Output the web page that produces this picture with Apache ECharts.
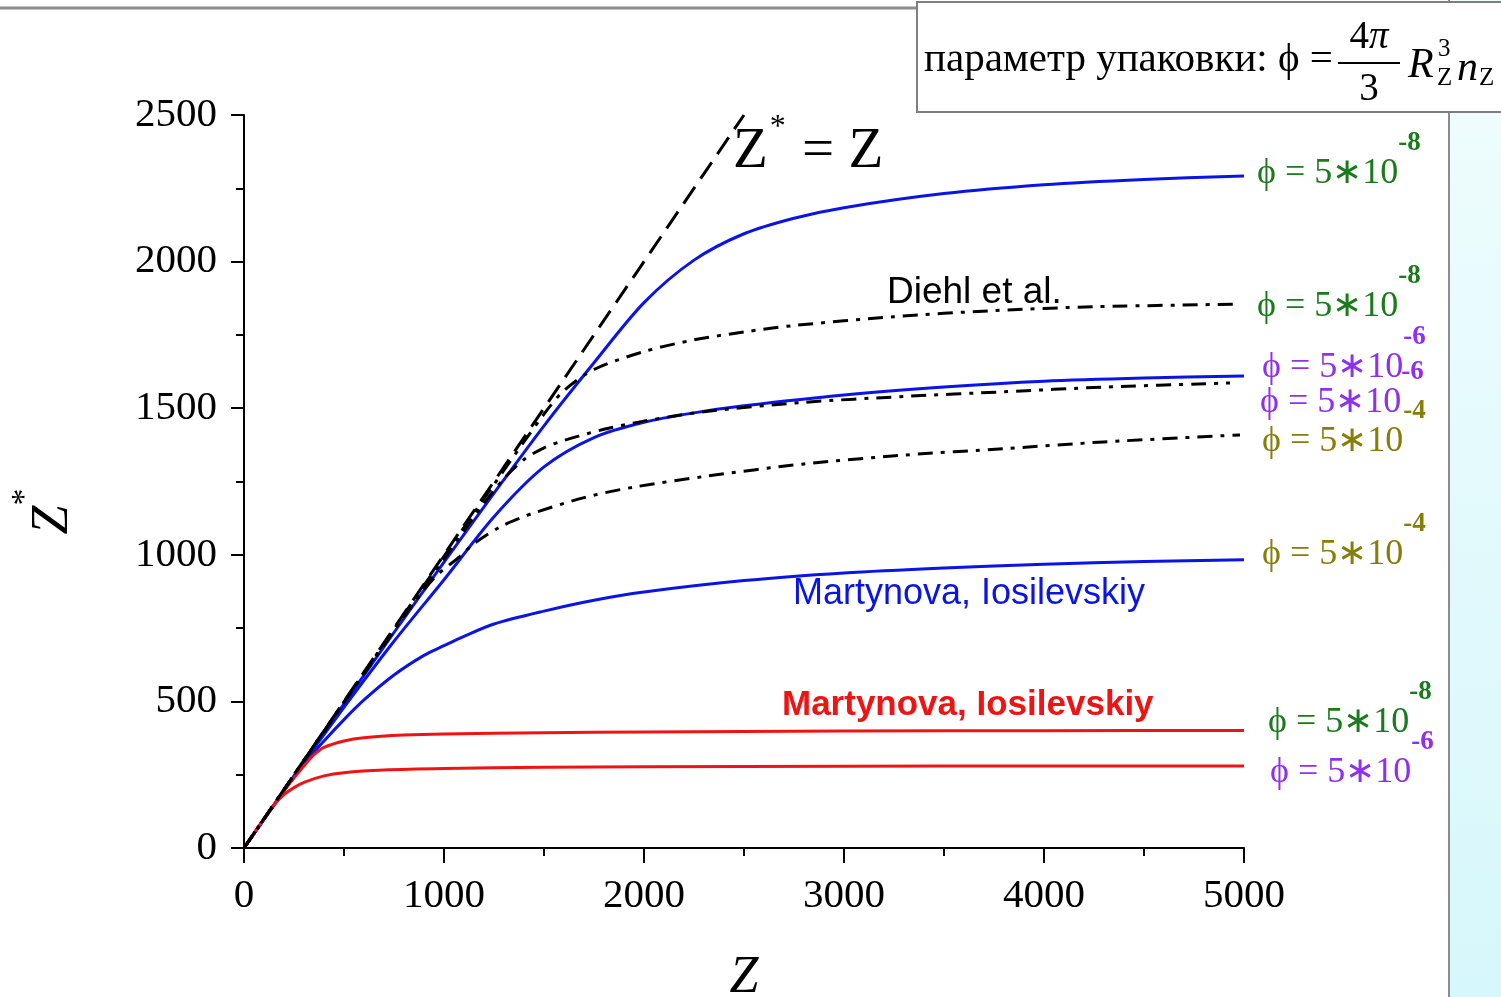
<!DOCTYPE html>
<html>
<head>
<meta charset="utf-8">
<script src="https://cdn.jsdelivr.net/npm/echarts@6/dist/echarts.min.js"></script>
<style>
  html, body { margin: 0; padding: 0; background: #fff; }
  #chart { width: 1501px; height: 997px; }
</style>
</head>
<body>
<div id="chart"></div>
<script>
// Z* vs Z curves
const b1Z = [0, 250, 500, 750, 1000, 1250, 1500, 1750, 2000, 2250, 2500, 2750, 3000, 3500, 4000, 4500, 5000]
const b1V = [0, 245, 492, 735, 975, 1210, 1440, 1655, 1860, 2005, 2095, 2148, 2184, 2232, 2262, 2280, 2292]

const b2Z = [0, 250, 500, 750, 1000, 1250, 1500, 1750, 2000, 2250, 2500, 3000, 3500, 4000, 4500, 5000]
const b2V = [0, 245, 480, 705, 915, 1130, 1300, 1400, 1452, 1484, 1508, 1545, 1572, 1592, 1603, 1610]

const b3Z = [0, 200, 300, 400, 500, 600, 750, 900, 1000, 1100, 1250, 1500, 1750, 2000, 2500, 3000, 3500, 4000, 4500, 5000]
const b3V = [0, 195, 287, 365, 438, 505, 590, 657, 690, 722, 764, 808, 845, 873, 912, 938, 955, 968, 977, 983]

const r1Z = [0, 200, 300, 350, 400, 500, 600, 800, 1000, 1500, 2000, 3000, 4000, 5000]
const r1V = [0, 195, 280, 318, 343, 365, 376, 385, 389, 393, 396, 399, 400, 401]

const r2Z = [0, 150, 200, 250, 300, 400, 500, 700, 1000, 1500, 2000, 3000, 4000, 5000]
const r2V = [0, 147, 182, 206, 224, 246, 257, 266, 271, 275, 277, 279, 280, 280]

const d1Z = [0, 500, 1000, 1250, 1500, 1600, 1750, 2000, 2250, 2500, 2750, 3250, 3750, 4250, 4980]
const d1V = [0, 498, 995, 1240, 1480, 1560, 1632, 1693, 1733, 1760, 1782, 1812, 1833, 1846, 1855]

const d2Z = [0, 500, 1000, 1200, 1300, 1400, 1500, 1600, 1800, 2000, 2300, 2800, 3300, 3800, 4300, 4930]
const d2V = [0, 496, 985, 1175, 1260, 1325, 1365, 1390, 1428, 1456, 1488, 1520, 1540, 1556, 1572, 1586]

const d3Z = [0, 400, 800, 950, 1080, 1150, 1280, 1380, 1450, 1700, 1950, 2300, 2800, 3300, 3800, 4300, 4980]
const d3V = [0, 398, 790, 920, 995, 1038, 1095, 1125, 1143, 1195, 1231, 1267, 1310, 1340, 1362, 1385, 1409]

const diagZ = [0, 2500]
const diagV = [0, 2500]

const xTicks = [0, 1000, 2000, 3000, 4000, 5000]
const yTicks = [0, 500, 1000, 1500, 2000, 2500]

// end labels: phi exponent
const expB1 = '-8', expB2 = '-6', expB3 = '-4'
const expR1 = '-8', expR2 = '-6'
const expD1 = '-8', expD2 = '-6', expD3 = '-4'

const GREEN = '#1b7a1b'
const PURPLE = '#8f2ff0'
const OLIVE = '#857f0a'
const BLUE = '#0a14e6'
const RED = '#ee1414'
const SERIF = '"Liberation Serif", "Times New Roman", serif'
const SANS = '"Liberation Sans", Arial, sans-serif'

const pairs = (xs, ys) => xs.map((x, i) => [x, ys[i]])

function phiLabel(color, exp, offset) {
  return {
    show: true,
    distance: 0,
    offset: offset,
    formatter: () => '{m|ϕ = 5∗10}{s|' + exp + '}',
    rich: {
      m: { fontFamily: SERIF, fontSize: 36, color: color, lineHeight: 88, verticalAlign: 'middle' },
      s: { fontFamily: SERIF, fontSize: 27, fontWeight: 'bold', color: color, lineHeight: 26, verticalAlign: 'top' }
    }
  }
}

function curve(name, xs, ys, color, type, label) {
  return {
    name: name,
    type: 'line',
    data: pairs(xs, ys),
    showSymbol: false,
    symbol: 'none',
    smooth: 0.3,
    lineStyle: { color: color, width: 3, type: type },
    endLabel: label || { show: false },
    silent: true
  }
}

const chart = echarts.init(document.getElementById('chart'))

chart.setOption({
  animation: false,
  backgroundColor: '#fff',
  grid: { left: 244, right: 257, top: 115, bottom: 149, containLabel: false, outerBoundsMode: 'none' },
  xAxis: {
    type: 'value',
    min: 0,
    max: 5000,
    interval: 1000,
    name: 'Z',
    nameLocation: 'middle',
    nameGap: 104,
    nameTextStyle: { fontFamily: SERIF, fontStyle: 'italic', fontSize: 52, color: '#000' },
    axisLine: { show: true, lineStyle: { color: '#000', width: 2 } },
    axisTick: { show: true, length: 15, lineStyle: { color: '#000', width: 2 } },
    minorTick: { show: true, splitNumber: 2, length: 8, lineStyle: { color: '#000', width: 2 } },
    splitLine: { show: false },
    axisLabel: {
      margin: 28,
      fontFamily: SERIF,
      fontSize: 41,
      color: '#000',
      formatter: v => (xTicks.includes(v) ? String(v) : '')
    }
  },
  yAxis: {
    type: 'value',
    min: 0,
    max: 2500,
    interval: 500,
    name: '{z|Z}{s|*}',
    nameLocation: 'middle',
    nameRotate: 90,
    nameGap: 146,
    nameTextStyle: {
      padding: [0, 60, 0, 0],
      rich: {
        z: { fontFamily: SERIF, fontStyle: 'italic', fontSize: 52, color: '#000', lineHeight: 90, verticalAlign: 'middle' },
        s: { fontFamily: SERIF, fontSize: 34, color: '#000', lineHeight: 30, verticalAlign: 'top' }
      }
    },
    axisLine: { show: true, lineStyle: { color: '#000', width: 2 } },
    axisTick: { show: true, length: 13, lineStyle: { color: '#000', width: 2 } },
    minorTick: { show: true, splitNumber: 2, length: 8, lineStyle: { color: '#000', width: 2 } },
    splitLine: { show: false },
    axisLabel: {
      margin: 27,
      fontFamily: SERIF,
      fontSize: 41,
      color: '#000',
      formatter: v => (yTicks.includes(v) ? String(v) : '')
    }
  },
  series: [
    curve('b1', b1Z, b1V, BLUE, 'solid', phiLabel(GREEN, expB1, [13, -2])),
    curve('b2', b2Z, b2V, BLUE, 'solid', phiLabel(PURPLE, expB2, [18, -8])),
    curve('b3', b3Z, b3V, BLUE, 'solid', phiLabel(OLIVE, expB3, [18, -5])),
    curve('r1', r1Z, r1V, RED, 'solid', phiLabel(GREEN, expR1, [24, -8])),
    curve('r2', r2Z, r2V, RED, 'solid', phiLabel(PURPLE, expR2, [26, 7])),
    curve('d1', d1Z, d1V, '#000', [15, 8, 4, 8], phiLabel(GREEN, expD1, [17, 2])),
    curve('d2', d2Z, d2V, '#000', [15, 8, 4, 8], phiLabel(PURPLE, expD2, [30, 20])),
    curve('d3', d3Z, d3V, '#000', [15, 8, 4, 8], phiLabel(OLIVE, expD3, [22, 7])),
    curve('diag', diagZ, diagV, '#000', [20, 10])
  ],
  graphic: [
    // slide decoration: top rule and right panel
    {
      type: 'rect', z: -10, silent: true,
      shape: { x: 1449, y: 0, width: 60, height: 997 },
      style: {
        fill: new echarts.graphic.LinearGradient(0, 0, 0, 1, [
          { offset: 0, color: '#f1fdfd' },
          { offset: 1, color: '#d6f7fb' }
        ])
      }
    },
    { type: 'line', z: -9, silent: true, shape: { x1: 1449, y1: 0, x2: 1449, y2: 997 }, style: { stroke: '#8c8c8c', lineWidth: 2 } },
    { type: 'line', z: -9, silent: true, shape: { x1: 0, y1: 8, x2: 1501, y2: 8 }, style: { stroke: '#8c8c8c', lineWidth: 3 } },
    // formula box
    {
      type: 'rect', z: 20, silent: true,
      shape: { x: 917, y: 2, width: 600, height: 110 },
      style: { fill: '#fff', stroke: '#7f7f7f', lineWidth: 2 }
    },
    {
      type: 'text', z: 21, silent: true, x: 924, y: 60,
      style: { text: 'параметр упаковки: ϕ =', font: '41px ' + SERIF, fill: '#000', verticalAlign: 'middle' }
    },
    {
      type: 'text', z: 21, silent: true, x: 1369, y: 38,
      style: {
        text: '{n|4}{p|π}', align: 'center', verticalAlign: 'middle',
        rich: {
          n: { fontFamily: SERIF, fontSize: 39, color: '#000' },
          p: { fontFamily: SERIF, fontStyle: 'italic', fontSize: 39, color: '#000' }
        }
      }
    },
    { type: 'line', z: 21, silent: true, shape: { x1: 1338, y1: 63, x2: 1400, y2: 63 }, style: { stroke: '#000', lineWidth: 2 } },
    {
      type: 'text', z: 21, silent: true, x: 1369, y: 90,
      style: { text: '3', font: '39px ' + SERIF, fill: '#000', align: 'center', verticalAlign: 'middle' }
    },
    {
      type: 'text', z: 21, silent: true, x: 1408, y: 66,
      style: { text: 'R', font: 'italic 42px ' + SERIF, fill: '#000', verticalAlign: 'middle' }
    },
    {
      type: 'text', z: 21, silent: true, x: 1438, y: 49,
      style: { text: '3', font: '25px ' + SERIF, fill: '#000', verticalAlign: 'middle' }
    },
    {
      type: 'text', z: 21, silent: true, x: 1437, y: 78,
      style: { text: 'Z', font: '25px ' + SERIF, fill: '#000', verticalAlign: 'middle' }
    },
    {
      type: 'text', z: 21, silent: true, x: 1457, y: 69,
      style: { text: 'n', font: 'italic 42px ' + SERIF, fill: '#000', verticalAlign: 'middle' }
    },
    {
      type: 'text', z: 21, silent: true, x: 1479, y: 78,
      style: { text: 'Z', font: '25px ' + SERIF, fill: '#000', verticalAlign: 'middle' }
    },
    // annotations
    {
      type: 'text', z: 15, silent: true, x: 733, y: 152,
      style: {
        text: '{z|Z}{s|*}{z| = Z}', verticalAlign: 'middle',
        rich: {
          z: { fontFamily: SERIF, fontSize: 57, color: '#000', lineHeight: 80, verticalAlign: 'middle' },
          s: { fontFamily: SERIF, fontSize: 32, color: '#000', lineHeight: 30, verticalAlign: 'top', padding: [0, 2, 0, 2] }
        }
      }
    },
    {
      type: 'text', z: 15, silent: true, x: 887, y: 293,
      style: { text: 'Diehl et al.', font: '37px ' + SANS, fill: '#000', verticalAlign: 'middle' }
    },
    {
      type: 'text', z: 15, silent: true, x: 793, y: 594,
      style: { text: 'Martynova, Iosilevskiy', font: '36px ' + SANS, fill: BLUE, verticalAlign: 'middle' }
    },
    {
      type: 'text', z: 15, silent: true, x: 782, y: 705,
      style: { text: 'Martynova, Iosilevskiy', font: 'bold 35px ' + SANS, fill: RED, verticalAlign: 'middle' }
    }
  ]
})
</script>
</body>
</html>
